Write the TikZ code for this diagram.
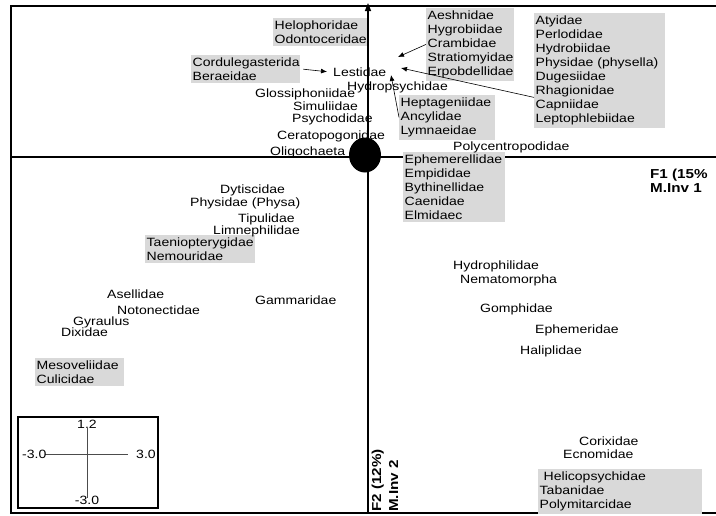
\documentclass[tikz,border=0pt]{standalone}
\usepackage{fontspec}
\setmainfont{Liberation Sans}[FakeStretch=1.17]
\usetikzlibrary{arrows.meta}
\definecolor{boxgray}{RGB}{217,217,217}
\begin{document}
\begin{tikzpicture}[x=1pt,y=-1pt,
  lbl/.style={anchor=base west, inner sep=0pt, font=\fontsize{12}{14}\selectfont},
  grp/.style={anchor=north west, fill=boxgray, align=left, inner xsep=1.5pt, inner ysep=2.6pt, font=\fontsize{12}{14}\selectfont},
  ax/.style={line width=1.4pt},
  ptr/.style={line width=0.6pt, -{Latex[length=6pt,width=5pt]}},
  axlbl/.style={font=\fontsize{13}{15}\selectfont\bfseries, inner sep=0pt, anchor=base west},
  inlbl/.style={font=\fontsize{12}{14}\selectfont, inner sep=0pt}]
\useasboundingbox (0,0) rectangle (716,515);
% frame
\draw[ax] (716,6) -- (11,6) -- (11,513) -- (716,513);
% axes
\draw[ax] (11,157) -- (716,157);
\draw[ax, -{Triangle[length=8pt,width=6pt]}] (368,513) -- (368,3);
\fill (365,155) ellipse [x radius=16pt, y radius=17.5pt];
% grouped labels
\node[grp, text width=91pt] (helo) at (273,18) {Helophoridae\\Odontoceridae};
\node[grp, text width=106pt] (cord) at (191,55) {Cordulegasterida\\Beraeidae};
\node[grp, text width=85pt] (aesh) at (426,8) {Aeshnidae\\Hygrobiidae\\Crambidae\\Stratiomyidae\\Erpobdellidae};
\node[grp, text width=128pt] (aty) at (534,13) {Atyidae\\Perlodidae\\Hydrobiidae\\Physidae (physella)\\Dugesiidae\\Rhagionidae\\Capniidae\\Leptophlebiidae};
\node[grp, text width=93pt] (hept) at (399,95) {Heptageniidae\\Ancylidae\\Lymnaeidae};
\node[grp, text width=99pt] (ephe) at (403,152) {Ephemerellidae\\Empididae\\Bythinellidae\\Caenidae\\Elmidaec};
\node[grp, text width=107pt] (taen) at (145,235) {Taeniopterygidae\\Nemouridae};
\node[grp, text width=86pt] (meso) at (35,358) {Mesoveliidae\\Culicidae};
\node[grp, text width=161pt] (heli) at (538,469) {\ Helicopsychidae\\Tabanidae\\Polymitarcidae};
% single labels
\node[lbl] (lest) at (333,76) {Lestidae};
\node[lbl] (hydp) at (347,90) {Hydropsychidae};
\node[lbl] (glos) at (255,97) {Glossiphoniidae};
\node[lbl] (simu) at (293,110) {Simuliidae};
\node[lbl] (psyc) at (292,122) {Psychodidae};
\node[lbl] (cera) at (277,139) {Ceratopogonidae};
\node[lbl] (olig) at (270,155) {Oligochaeta};
\node[lbl] (poly) at (453,150) {Polycentropodidae};
\node[lbl] (dyti) at (220,193) {Dytiscidae};
\node[lbl] (phys) at (190,206) {Physidae (Physa)};
\node[lbl] (tipu) at (238,222) {Tipulidae};
\node[lbl] (limn) at (213,234) {Limnephilidae};
\node[lbl] (asel) at (107,298) {Asellidae};
\node[lbl] (noto) at (117,314) {Notonectidae};
\node[lbl] (gyra) at (73,325) {Gyraulus};
\node[lbl] (dixi) at (61,336) {Dixidae};
\node[lbl] (gamm) at (255,304) {Gammaridae};
\node[lbl] (hyph) at (453,269) {Hydrophilidae};
\node[lbl] (nema) at (460,283) {Nematomorpha};
\node[lbl] (gomp) at (480,312) {Gomphidae};
\node[lbl] (ephm) at (535,333) {Ephemeridae};
\node[lbl] (hali) at (520,354) {Haliplidae};
\node[lbl] (cori) at (579,445) {Corixidae};
\node[lbl] (ecno) at (563,458) {Ecnomidae};
% arrows
\coordinate (t2) at (398,57);
\coordinate (t3) at (401,68);
\coordinate (t4) at (391,75);
\draw[ptr] ([xshift=3pt]cord.east) -- ([xshift=-6pt]lest.west);
\draw[ptr] (aesh.west) -- (t2);
\draw[ptr] ([yshift=-27pt]aty.west) -- (t3);
\draw[ptr] (hept.west) -- (t4);
% axis labels
\node[axlbl] (f1) at (650,178) {F1 (15\%};
\node[axlbl] (mi1) at (650,192) {M.Inv 1};
\node[axlbl, rotate=90] (f2) at (381,512) {F2 (12\%)};
\node[axlbl, rotate=90] (mi2) at (398,512) {M.Inv 2};
% inset scale
\draw[line width=1.4pt] (18,417) rectangle (158,508);
\draw[line width=0.5pt, black!70] (87,428) -- (87,498);
\draw[line width=0.5pt, black!70] (45,454) -- (128,454);
\node[inlbl] (itop) at (87,424) {1.2};
\node[inlbl, anchor=west] (ileft) at (22,454) {-3.0};
\node[inlbl, anchor=west] (iright) at (136,454) {3.0};
\node[inlbl] (ibot) at (87,500) {-3.0};
\end{tikzpicture}
\end{document}
